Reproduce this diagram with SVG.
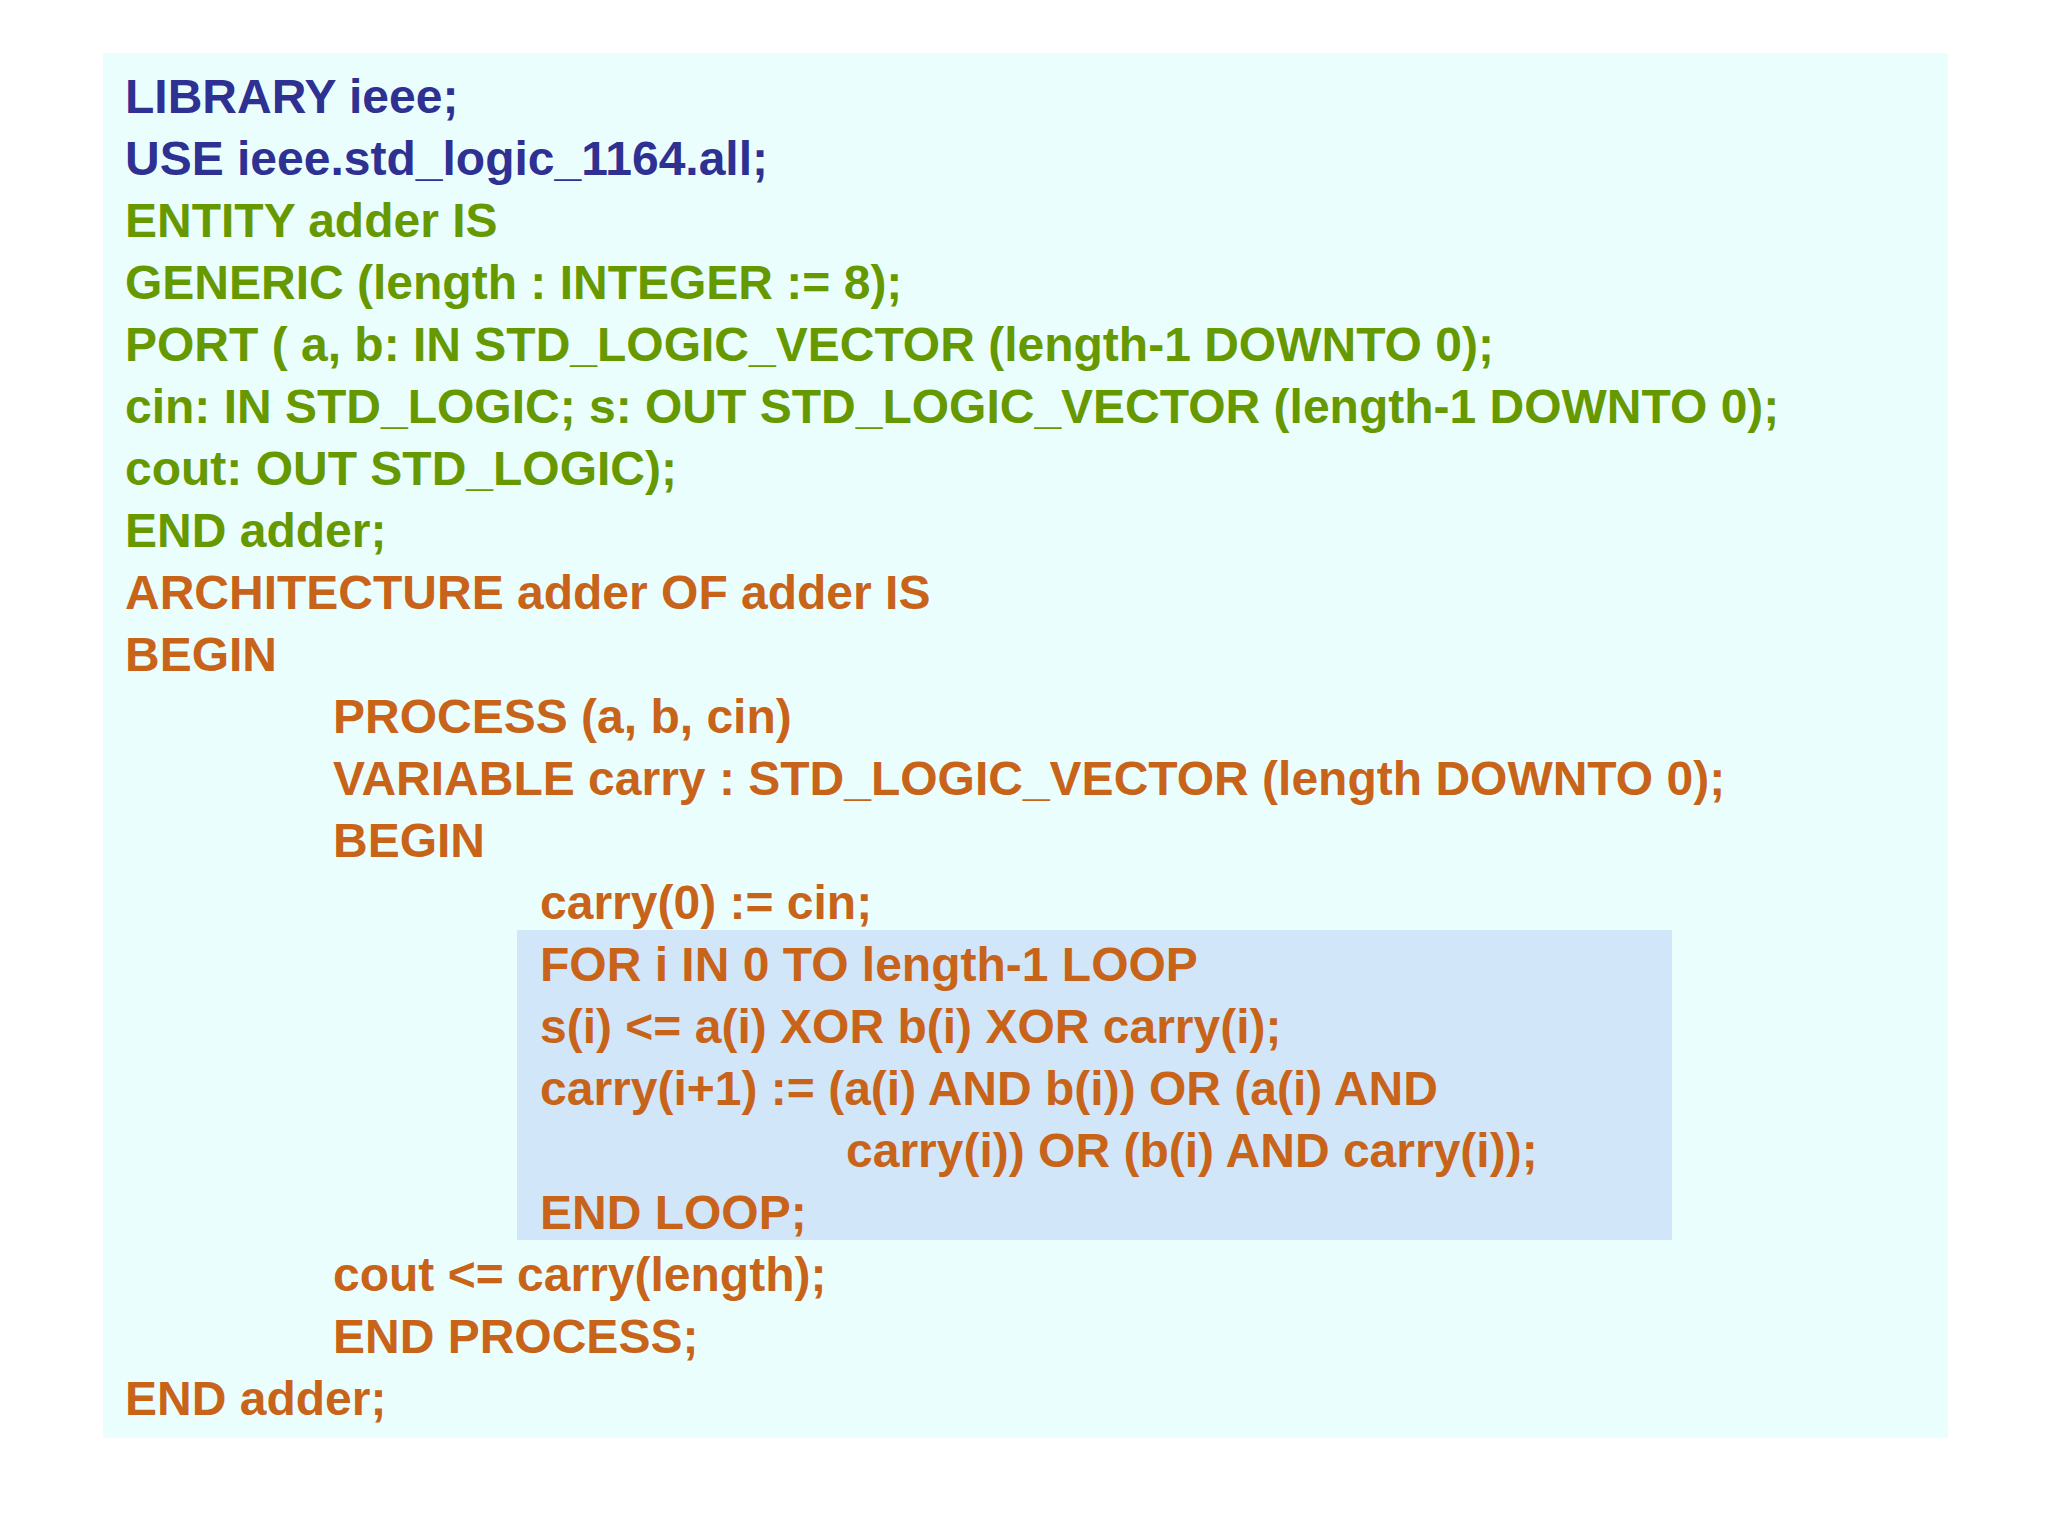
<svg xmlns="http://www.w3.org/2000/svg" width="2048" height="1536" viewBox="0 0 2048 1536">
<style>
text{font-family:"Liberation Sans",Arial,sans-serif;font-weight:bold;font-size:48px}
.b{fill:#2E3192}.g{fill:#669900}.o{fill:#C8641A}
</style>
<rect width="2048" height="1536" fill="#fff"/>
<g id="panel"><rect x="103" y="53" width="1845" height="1385" fill="#EBFEFE"/></g>
<g id="loopbox"><rect x="517" y="930" width="1155" height="310" fill="#D2E6FA"/></g>
<g id="code">
<text class="b" x="125" y="113">LIBRARY ieee;</text>
<text class="b" x="125" y="175">USE ieee.std_logic_1164.all;</text>
<text class="g" x="125" y="237">ENTITY adder IS</text>
<text class="g" x="125" y="299">GENERIC (length : INTEGER := 8);</text>
<text class="g" x="125" y="361">PORT ( a, b: IN STD_LOGIC_VECTOR (length-1 DOWNTO 0);</text>
<text class="g" x="125" y="423">cin: IN STD_LOGIC; s: OUT STD_LOGIC_VECTOR (length-1 DOWNTO 0);</text>
<text class="g" x="125" y="485">cout: OUT STD_LOGIC);</text>
<text class="g" x="125" y="547">END adder;</text>
<text class="o" x="125" y="609">ARCHITECTURE adder OF adder IS</text>
<text class="o" x="125" y="671">BEGIN</text>
<text class="o" x="333" y="733">PROCESS (a, b, cin)</text>
<text class="o" x="333" y="795">VARIABLE carry : STD_LOGIC_VECTOR (length DOWNTO 0);</text>
<text class="o" x="333" y="857">BEGIN</text>
<text class="o" x="540" y="919">carry(0) := cin;</text>
<text class="o" x="540" y="981">FOR i IN 0 TO length-1 LOOP</text>
<text class="o" x="540" y="1043">s(i) &lt;= a(i) XOR b(i) XOR carry(i);</text>
<text class="o" x="540" y="1105">carry(i+1) := (a(i) AND b(i)) OR (a(i) AND</text>
<text class="o" x="846" y="1167">carry(i)) OR (b(i) AND carry(i));</text>
<text class="o" x="540" y="1229">END LOOP;</text>
<text class="o" x="333" y="1291">cout &lt;= carry(length);</text>
<text class="o" x="333" y="1353">END PROCESS;</text>
<text class="o" x="125" y="1415">END adder;</text>
</g>
</svg>
